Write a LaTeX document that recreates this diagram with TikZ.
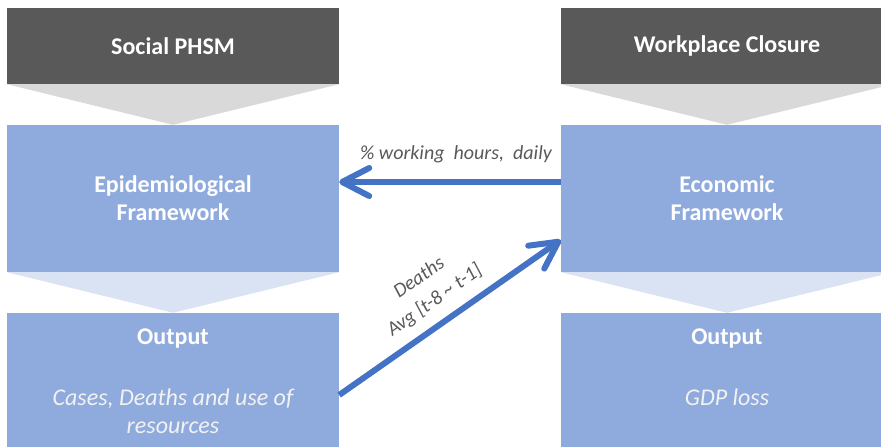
\documentclass[tikz,border=0pt]{standalone}
\usepackage{fontspec}
\setmainfont{Carlito}
\usetikzlibrary{arrows.meta}
\definecolor{darkhead}{HTML}{595959}
\definecolor{chevgrey}{HTML}{D9D9D9}
\definecolor{boxblue}{HTML}{8FAADC}
\definecolor{chevblue}{HTML}{DAE3F3}
\definecolor{arrowblue}{HTML}{4472C4}
\definecolor{labelgrey}{HTML}{595959}
\definecolor{softwhite}{HTML}{F2F2F2}
\tikzset{
  headbox/.style={rectangle, fill=darkhead, minimum width=332pt, minimum height=76pt, inner sep=0pt,
    text=white, font=\fontsize{24}{28}\selectfont\bfseries},
  framebox/.style={rectangle, fill=boxblue, minimum width=332pt, minimum height=147pt, inner sep=0pt,
    text=white, align=center, font=\fontsize{24}{28}\selectfont\bfseries},
  outbox/.style={rectangle, fill=boxblue, minimum width=332pt, minimum height=147pt, inner sep=0pt},
  outtitle/.style={inner sep=0pt, text=white, font=\fontsize{24}{28}\selectfont\bfseries},
  outtext/.style={inner sep=0pt, text=softwhite, align=center, font=\fontsize{24}{28}\selectfont\itshape},
  flow/.style={line width=6pt, draw=arrowblue, -{Straight Barb[length=27pt, width=28pt, line width=6pt, round]}},
  lab/.style={inner sep=0pt, text=labelgrey, align=center, font=\fontsize{20}{27}\selectfont\itshape},
}
\begin{document}
\begin{tikzpicture}[x=1pt, y=-1pt]
\path[use as bounding box] (0,0) rectangle (881,447);
\clip (0,0) rectangle (881,447);
% left column
\node[headbox] (soc) at (173,46) {Social PHSM};
\node[framebox] (epi) at (173,198.5) {Epidemiological\\Framework};
\node[outbox] (out1) at (173,386.5) {};
\fill[chevgrey] (soc.south west) -- (soc.south east) -- (epi.north) -- cycle;
\fill[chevblue] (epi.south west) -- (epi.south east) -- (out1.north) -- cycle;
\node[outtitle] (out1t) at (173,339) {Output};
\node[outtext] (out1x) at (173,411) {Cases, Deaths and use of\\resources};
% right column
\node[headbox] (wpc) at (727,46) {Workplace Closure};
\node[framebox] (eco) at (727,198.5) {Economic\\Framework};
\node[outbox] (out2) at (727,386.5) {};
\fill[chevgrey] (wpc.south west) -- (wpc.south east) -- (eco.north) -- cycle;
\fill[chevblue] (eco.south west) -- (eco.south east) -- (out2.north) -- cycle;
\node[outtitle] (out2t) at (727,339) {Output};
\node[outtext] (out2x) at (727,397) {GDP loss};
% connectors
\coordinate (ya) at (0,182);
\coordinate (yb) at (0,395);
\coordinate (yc) at (0,240);
\draw[flow] (eco.west |- ya) -- (epi.east |- ya)
  node[lab, midway, above=16pt, xshift=6pt] (lwh) {\%\ working\ \ hours,\ \ daily};
\draw[flow] (out1.east |- yb) -- (eco.west |- yc)
  node[lab, pos=0.49, sloped, above=11pt] (ldeaths) {Deaths\\Avg [t-8 \textasciitilde\ t-1]};
\end{tikzpicture}
\end{document}
